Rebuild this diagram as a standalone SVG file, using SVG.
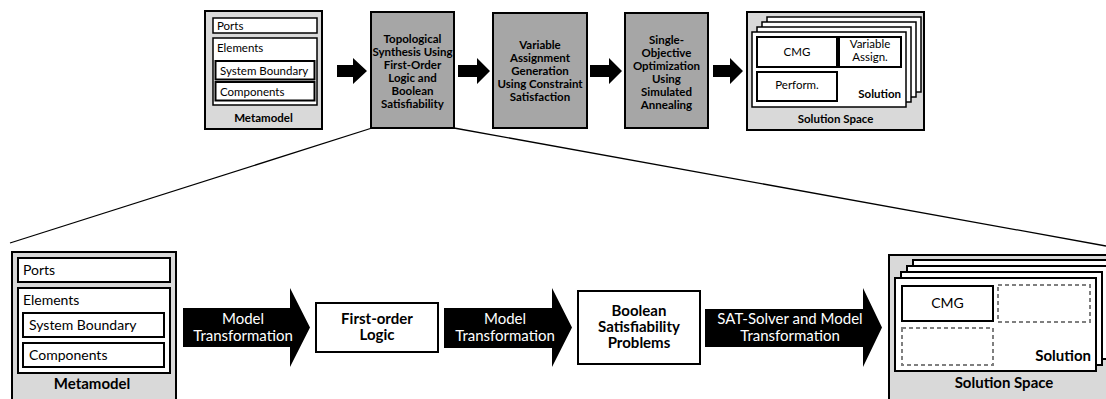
<svg xmlns="http://www.w3.org/2000/svg" width="1106" height="399" viewBox="0 0 1106 399">
  <style>
    text { font-family: Lato, "Open Sans", "DejaVu Sans", sans-serif; fill: #000; }
    .box { fill: #fff; stroke: #000; stroke-width: 2; }
    .thin { fill: #fff; stroke: #000; stroke-width: 1.5; }
    .light { fill: #d9d9d9; stroke: #000; stroke-width: 2; }
    .dark { fill: #a6a6a6; stroke: #000; stroke-width: 2; }
    .dash { fill: #fff; stroke: #7f7f7f; stroke-width: 2; stroke-dasharray: 4 3; }
    .arrow { fill: #000; }
    .zoomline { stroke: #000; stroke-width: 1.3; fill: none; }
    .s11 { font-size: 11.5px; }
    .s12b { font-size: 11.5px; font-weight: bold; text-anchor: middle; }
    .s14 { font-size: 14px; }
    .s15b { font-size: 15px; font-weight: bold; text-anchor: middle; }
    .w15 { font-size: 15px; fill: #fff; text-anchor: middle; }
    .mid { text-anchor: middle; }
    .end { text-anchor: end; }
  </style>

  <!-- magnification lines from the synthesis step down to the detailed row -->
  <g id="connectors">
    <line class="zoomline" x1="372" y1="128" x2="10" y2="243"/>
    <line class="zoomline" x1="454" y1="128" x2="1106" y2="246"/>
    <!-- top row block arrows -->
    <path class="arrow" d="M337,65 H353 V58 L367,71 L353,84 V77 H337 Z"/>
    <path class="arrow" d="M458,65 H477 V58 L490,71 L477,84 V77 H458 Z"/>
    <path class="arrow" d="M590,65 H609 V58 L622,71 L609,84 V77 H590 Z"/>
    <path class="arrow" d="M713,65 H730 V58 L743,71 L730,84 V77 H713 Z"/>
  </g>

  <!-- ===== top row ===== -->
  <g id="metamodel-top">
    <rect class="light" x="205" y="11" width="117" height="118"/>
    <rect class="thin" x="213" y="18" width="104" height="15"/>
    <text class="s11" x="217" y="29.5">Ports</text>
    <rect class="thin" x="213" y="38" width="104" height="67"/>
    <text class="s11" x="217" y="52">Elements</text>
    <rect class="box" x="215.5" y="61" width="99" height="18.5"/>
    <text class="s11" x="220" y="75">System Boundary</text>
    <rect class="box" x="215.5" y="82" width="99" height="18.5"/>
    <text class="s11" x="220" y="96">Components</text>
    <text class="s12b" x="263.5" y="122">Metamodel</text>
  </g>

  <g id="topological-synthesis">
    <rect class="dark" x="371" y="12" width="83" height="116"/>
    <text class="s12b" x="412.5" y="43">Topological</text>
    <text class="s12b" x="412.5" y="56">Synthesis Using</text>
    <text class="s12b" x="412.5" y="69">First-Order</text>
    <text class="s12b" x="412.5" y="82">Logic and</text>
    <text class="s12b" x="412.5" y="95">Boolean</text>
    <text class="s12b" x="412.5" y="108">Satisfiability</text>
  </g>

  <g id="variable-assignment">
    <rect class="dark" x="493" y="13" width="94" height="115"/>
    <text class="s12b" x="540" y="49">Variable</text>
    <text class="s12b" x="540" y="62">Assignment</text>
    <text class="s12b" x="540" y="75">Generation</text>
    <text class="s12b" x="540" y="88">Using Constraint</text>
    <text class="s12b" x="540" y="101">Satisfaction</text>
  </g>

  <g id="single-objective-optimization">
    <rect class="dark" x="625" y="13" width="83" height="115"/>
    <text class="s12b" x="666.5" y="44">Single-</text>
    <text class="s12b" x="666.5" y="57">Objective</text>
    <text class="s12b" x="666.5" y="70">Optimization</text>
    <text class="s12b" x="666.5" y="83">Using</text>
    <text class="s12b" x="666.5" y="96">Simulated</text>
    <text class="s12b" x="666.5" y="109">Annealing</text>
  </g>

  <g id="solution-space-top">
    <rect class="light" x="747" y="12" width="177" height="118"/>
    <rect class="thin" x="767" y="17" width="154" height="75"/>
    <rect class="thin" x="762" y="22" width="154" height="75"/>
    <rect class="thin" x="757" y="27" width="154" height="75"/>
    <rect class="thin" x="752" y="32" width="154" height="75"/>
    <rect class="box" x="757" y="37" width="80" height="30"/>
    <text class="s11 mid" x="797" y="56">CMG</text>
    <rect class="box" x="839" y="37" width="62" height="30"/>
    <text class="s11 mid" x="870" y="48">Variable</text>
    <text class="s11 mid" x="870" y="61">Assign.</text>
    <rect class="box" x="757" y="72" width="80" height="29"/>
    <text class="s11 mid" x="797" y="89">Perform.</text>
    <text class="s12b end" x="901" y="98">Solution</text>
    <text class="s12b" x="835.5" y="123">Solution Space</text>
  </g>

  <!-- ===== detailed row ===== -->
  <g id="metamodel">
    <rect class="light" x="12" y="252" width="164" height="160"/>
    <rect class="box" x="18" y="258" width="152" height="24"/>
    <text class="s14" x="23" y="275">Ports</text>
    <rect class="box" x="18" y="288" width="152" height="85"/>
    <text class="s14" x="23" y="305">Elements</text>
    <rect class="box" x="23" y="313" width="141" height="24"/>
    <text class="s14" x="29" y="330">System Boundary</text>
    <rect class="box" x="23" y="343" width="141" height="24"/>
    <text class="s14" x="29" y="360">Components</text>
    <text class="s15b" x="92" y="389">Metamodel</text>
  </g>

  <g id="transformation-1">
    <path class="arrow" d="M183,308 H290 V288 L310,327.5 L290,367 V347 H183 Z"/>
    <text class="w15" x="243" y="324">Model</text>
    <text class="w15" x="243" y="341">Transformation</text>
  </g>

  <g id="first-order-logic">
    <rect class="box" x="316" y="303" width="122" height="49"/>
    <text class="s15b" x="377" y="324">First-order</text>
    <text class="s15b" x="377" y="340">Logic</text>
  </g>

  <g id="transformation-2">
    <path class="arrow" d="M444,308 H552 V288 L572,327.5 L552,367 V348 H444 Z"/>
    <text class="w15" x="505" y="324">Model</text>
    <text class="w15" x="505" y="341">Transformation</text>
  </g>

  <g id="boolean-satisfiability">
    <rect class="box" x="578" y="291" width="122" height="73"/>
    <text class="s15b" x="639" y="316">Boolean</text>
    <text class="s15b" x="639" y="332">Satisfiability</text>
    <text class="s15b" x="639" y="348">Problems</text>
  </g>

  <g id="sat-solver">
    <path class="arrow" d="M705,309 H863 V288 L882,327.5 L863,367 V347 H705 Z"/>
    <text class="w15" x="790" y="324">SAT-Solver and Model</text>
    <text class="w15" x="790" y="341">Transformation</text>
  </g>

  <g id="solution-space">
    <rect class="light" x="889" y="255" width="240" height="160"/>
    <rect class="box" x="913" y="260" width="201" height="93"/>
    <rect class="box" x="907" y="266" width="201" height="93"/>
    <rect class="box" x="901" y="272" width="201" height="93"/>
    <rect class="box" x="895" y="278" width="201" height="93"/>
    <rect class="box" x="902" y="286" width="91" height="35"/>
    <text class="s14 mid" x="947.5" y="308">CMG</text>
    <rect class="dash" x="998" y="285" width="92" height="37"/>
    <rect class="dash" x="902" y="328" width="91" height="37"/>
    <text class="s15b end" x="1091" y="361">Solution</text>
    <text class="s15b" x="1004" y="388">Solution Space</text>
  </g>
</svg>
